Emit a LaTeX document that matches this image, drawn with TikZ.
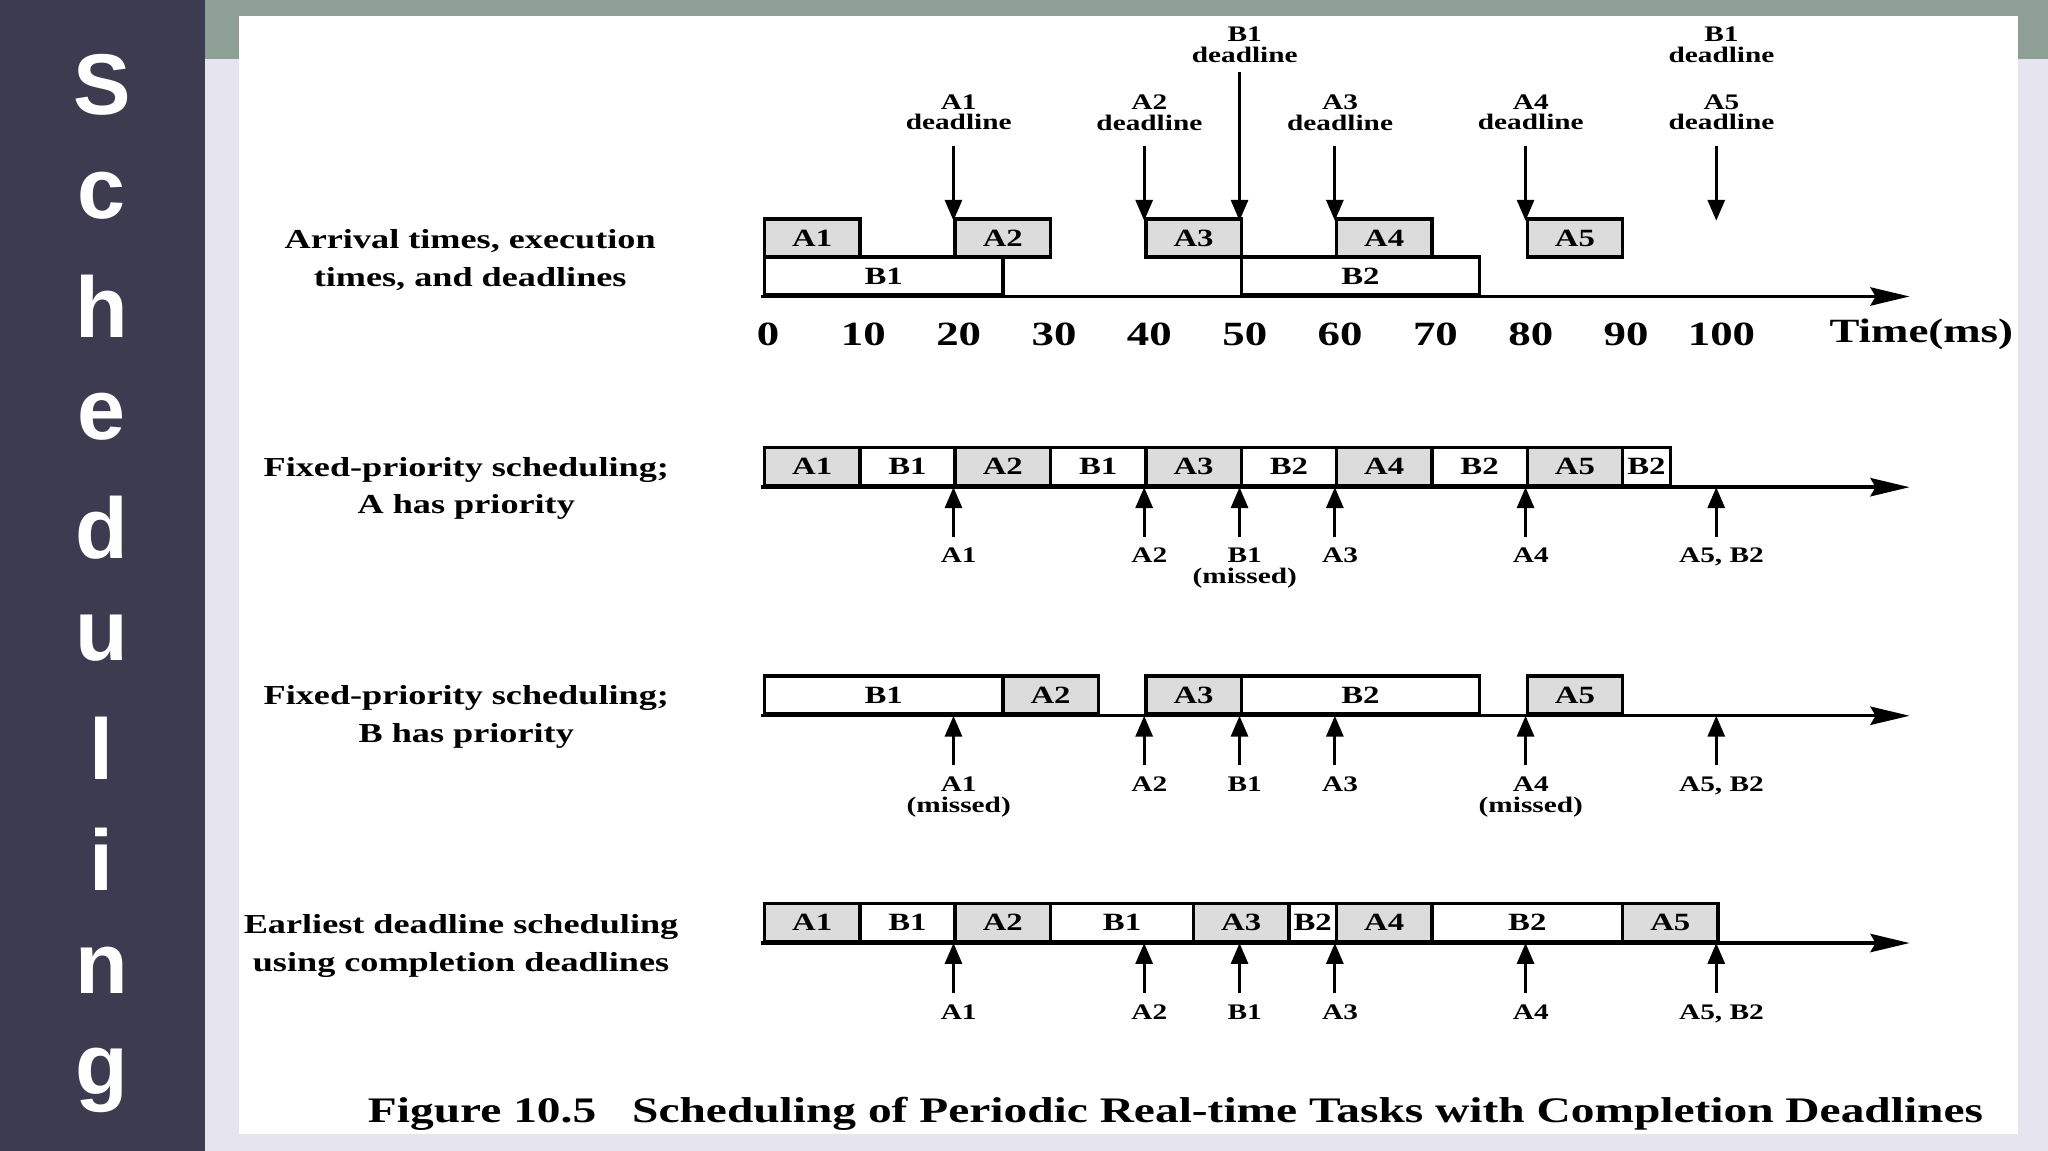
\documentclass[tikz,border=0pt]{standalone}
\usepackage{fontspec}
\setmainfont[FakeStretch=1.32]{Liberation Serif}
\newfontfamily\sidefont{Liberation Sans}
\usetikzlibrary{arrows.meta}
\definecolor{side}{HTML}{3D3B4F}
\definecolor{band}{HTML}{8E9F95}
\definecolor{bg}{HTML}{E6E4EE}
\definecolor{agray}{HTML}{DCDCDC}
\tikzset{
 box/.style={draw=black,line width=2.6pt,minimum height=29pt,inner sep=0pt,anchor=south west,font=\bfseries\fontsize{19}{19}\selectfont},
 abox/.style={box,fill=agray},
 bbox/.style={box,fill=white},
 axis/.style={line width=2.6pt,-{Stealth[length=30pt,width=14pt,inset=4pt]}},
 tk/.style={line width=2.4pt,-{Triangle[length=16pt,width=13pt]}},
 lbl/.style={font=\bfseries\fontsize{17}{19}\selectfont,align=center},
 rowlbl/.style={font=\bfseries\fontsize{21}{29}\selectfont,align=center},
 num/.style={font=\bfseries\fontsize{26}{26}\selectfont}
}
\newcommand{\tx}[1]{584+7.3*#1}
\begin{document}
\begin{tikzpicture}[x=1pt,y=-1pt]
\useasboundingbox (0,0) rectangle (1568,881);
\fill[bg] (0,0) rectangle (1568,881);
\fill[band] (157,0) rectangle (1568,45);
\fill[white] (183,12) rectangle (1545,868);
\fill[side] (0,0) rectangle (157,881);
\foreach \l [count=\i] in {S,c,h,e,d,u,l,i,n,g}
  \node[text=white,font=\sidefont\bfseries\fontsize{66}{66}\selectfont] (side\i) at (78,65+84.7*\i-84.7) {\l};
% row labels
\node[rowlbl] (r1) at (360,199) {Arrival times, execution\\times, and deadlines};
\node[rowlbl] (r2) at (357,374) {Fixed-priority scheduling;\\A has priority};
\node[rowlbl] (r3) at (357,549) {Fixed-priority scheduling;\\B has priority};
\node[rowlbl] (r4) at (353,724) {Earliest deadline scheduling\\using completion deadlines};
% axes
\foreach \r/\y in {1/227,2/373,3/548,4/722}{
  \coordinate (s\r) at (583,\y); \coordinate (e\r) at (1462,\y);
  \draw[axis] (s\r) -- (e\r);}
% row 1
\foreach \n/\a/\d in {A1/0/10,A2/20/10,A3/40/10,A4/60/10,A5/80/10}
  \node[abox,minimum width=7.3*\d pt] (r1\n) at ({\tx{\a}},198) {\n};
\foreach \n/\a/\d in {B1/0/25,B2/50/25}
  \node[bbox,minimum width=7.3*\d pt] (r1\n) at ({\tx{\a}},227) {\n};
\foreach \v [count=\i] in {0,10,20,30,40,50,60,70,80,90,100}
  \node[num] (n\i) at ({588+7.3*\v},256) {\v};
\node[num] (tm) at (1471,256) {Time(ms)};
\foreach \t/\k in {20/1,40/2,60/3,80/4,100/5}{
  \node[lbl] (dl\k) at ({\tx{\t}+4},86) {A\k\\[-3pt]deadline};
  \coordinate (dt\k) at ({\tx{\t}},112); \coordinate (db\k) at ({\tx{\t}},169);
  \draw[tk] (dt\k) -- (db\k);}
\node[lbl] (bd1) at ({\tx{50}+4},34) {B1\\[-3pt]deadline};
\node[lbl] (bd2) at ({\tx{100}+4},34) {B1\\[-3pt]deadline};
\coordinate (bt) at ({\tx{50}},55); \coordinate (bb) at ({\tx{50}},169);
\draw[tk] (bt) -- (bb);
% row 2
\foreach \n/\a/\d/\s [count=\i] in {A1/0/10/abox,B1/10/10/bbox,A2/20/10/abox,B1/30/10/bbox,A3/40/10/abox,B2/50/10/bbox,A4/60/10/abox,B2/70/10/bbox,A5/80/10/abox,B2/90/5/bbox}
  \node[\s,minimum width=7.3*\d pt] (q2\i) at ({\tx{\a}},373) {\n};
% row 3
\foreach \n/\a/\d/\s [count=\i] in {B1/0/25/bbox,A2/25/10/abox,A3/40/10/abox,B2/50/25/bbox,A5/80/10/abox}
  \node[\s,minimum width=7.3*\d pt] (q3\i) at ({\tx{\a}},548) {\n};
% row 4
\foreach \n/\a/\d/\s [count=\i] in {A1/0/10/abox,B1/10/10/bbox,A2/20/10/abox,B1/30/15/bbox,A3/45/10/abox,B2/55/5/bbox,A4/60/10/abox,B2/70/20/bbox,A5/90/10/abox}
  \node[\s,minimum width=7.3*\d pt] (q4\i) at ({\tx{\a}},722) {\n};
% up arrows
\foreach \r/\y in {2/373,3/548,4/722}
  \foreach \t [count=\k] in {20,40,50,60,80,100}{
    \coordinate (ub\r\k) at ({\tx{\t}},{\y+38}); \coordinate (ut\r\k) at ({\tx{\t}},\y);
    \draw[tk] (ub\r\k) -- (ut\r\k);}
\foreach \r/\y/\la/\lb/\lc/\ld in {2/434/A1/B1\\[-3pt](missed)/A4/,3/609/A1\\[-3pt](missed)/B1/A4\\[-3pt](missed)/,4/784/A1/B1/A4/}{
  \node[lbl,anchor=north] (l\r1) at ({\tx{20}+4},{\y-18}) {\la};
  \node[lbl,anchor=north] (l\r2) at ({\tx{40}+4},{\y-18}) {A2};
  \node[lbl,anchor=north] (l\r3) at ({\tx{50}+4},{\y-18}) {\lb};
  \node[lbl,anchor=north] (l\r4) at ({\tx{60}+4},{\y-18}) {A3};
  \node[lbl,anchor=north] (l\r5) at ({\tx{80}+4},{\y-18}) {\lc};
  \node[lbl,anchor=north] (l\r6) at ({\tx{100}+4},{\y-18}) {A5, B2};}
\node[font=\bfseries\fontsize{27.5}{27.5}\selectfont] (cap) at (900,853) {Figure 10.5\quad Scheduling of Periodic Real-time Tasks with Completion Deadlines};
\end{tikzpicture}
\end{document}
